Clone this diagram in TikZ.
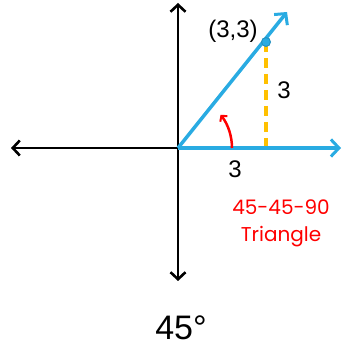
\documentclass[tikz,border=0pt]{standalone}
\usepackage{fontspec}
\setmainfont{Liberation Sans}
\newfontfamily\gothic{Poppins}
\usepackage{xcolor}
\usetikzlibrary{arrows.meta,positioning}
\definecolor{rayblue}{RGB}{41,171,226}
\definecolor{legyellow}{RGB}{255,192,0}
\tikzset{
  axis/.style={line width=2.8pt,-{Straight Barb[length=7pt,width=15pt,line width=2.6pt]}},
  ray/.style={rayblue,line width=3.5pt,-{Straight Barb[length=8pt,width=17pt,line width=3pt]}},
  lbl/.style={font=\fontsize{24}{24}\selectfont},
}
\begin{document}
\begin{tikzpicture}[x=1pt,y=1pt]
  \useasboundingbox (0,0) rectangle (342,350);
  % --- Ejes ---
  \coordinate (o) at (178,202);
  \coordinate (xl) at (11,202);
  \coordinate (yt) at (178,347);
  \coordinate (yb) at (178,69);
  \draw[axis] (o) -- (xl);
  \draw[axis] (o) -- (yt);
  \draw[axis] (o) -- (yb);
  % --- Rayos ---
  \coordinate (xr) at (341,202);
  \coordinate (dt) at (287,338);
  \coordinate (p) at (266,308);
  \coordinate (f) at (266,202);
  \draw[legyellow,line width=3.5pt,dash pattern=on 10pt off 6pt] (p) -- (f);
  \draw[ray] (o) -- (xr);
  \draw[ray] (o) -- (dt);
  \fill[rayblue!85!black] (p) circle (5pt);
  \fill[rayblue] (p) circle (3.8pt);
  % --- Angulo ---
  \draw[red,line width=2.5pt,-{Straight Barb[length=4pt,width=9pt,line width=2pt]}]
    (232,202) arc[start angle=0,end angle=38,radius=54];
  % --- Etiquetas ---
  \node[lbl] (pt) at (233,319) {(3,3)};
  \node[lbl] (side) at (284,260) {3};
  \node[lbl] (base) at (235,181) {3};
  \node[red,font=\gothic\fontsize{20}{20}\selectfont] (tri1) at (281,143) {45-45-90};
  \node[red,font=\gothic\fontsize{20}{20}\selectfont,below=5pt of tri1] (tri2) {Triangle};
  \node[font=\fontsize{34}{34}\selectfont] (ang) at (181,22) {45°};
\end{tikzpicture}
\end{document}
